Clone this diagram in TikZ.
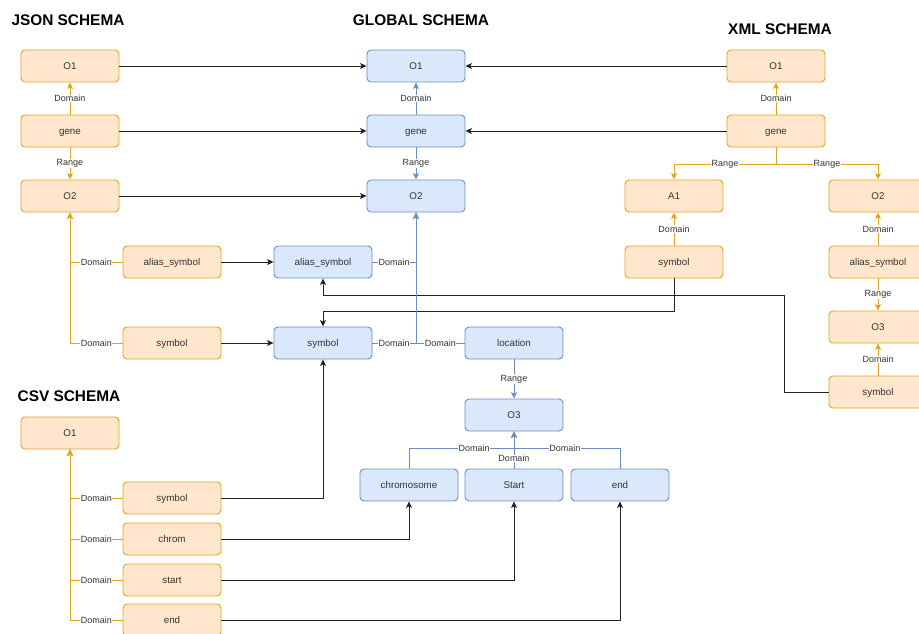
\documentclass[tikz,border=0pt]{standalone}
\usepackage{fontspec}
\setmainfont{Liberation Sans}
\usetikzlibrary{arrows.meta}
\definecolor{ofill}{HTML}{FFE6CC}
\definecolor{odraw}{HTML}{E0A520}
\definecolor{bfill}{HTML}{DAE8FC}
\definecolor{bdraw}{HTML}{6C8EBF}
\definecolor{txt}{HTML}{333333}
\definecolor{cline}{HTML}{222222}
\tikzset{
  base/.style={rounded corners=4pt, minimum width=98pt, minimum height=32pt, line width=0.9pt, text=txt, font=\fontsize{9.8}{12}\selectfont, inner sep=0pt, text height=7pt, text depth=0pt},
  obox/.style={base, fill=ofill, draw=odraw},
  bbox/.style={base, fill=bfill, draw=bdraw},
  title/.style={font=\fontsize{15.4}{18}\selectfont\bfseries, text=black},
  lab/.style={font=\fontsize{9}{10}\selectfont, text=txt, fill=white, inner sep=0.6pt},
  tip/.style={-{Stealth[length=6.5pt,width=6pt,inset=1.5pt]}},
  conn/.style={tip, draw=cline, line width=0.9pt},
  oconn/.style={tip, draw=odraw, line width=0.9pt},
  bconn/.style={tip, draw=bdraw, line width=0.9pt},
}
\begin{document}
\begin{tikzpicture}[x=1pt,y=-1pt]
\useasboundingbox (0,0) rectangle (919,634);
\clip (0,0) rectangle (919,634);
\fill[white] (0,0) rectangle (919,634);
% titles
\node[title] (tjson) at (68,20) {JSON SCHEMA};
\node[title] (tglob) at (421,20) {GLOBAL SCHEMA};
\node[title] (txml) at (780,29) {XML SCHEMA};
\node[title] (tcsv) at (69,396) {CSV SCHEMA};
% JSON
\node[obox] (jO1) at (70,66) {O1};
\node[obox] (jgene) at (70,131) {gene};
\node[obox] (jO2) at (70,196) {O2};
\node[obox] (jalias) at (172,262) {alias\_symbol};
\node[obox] (jsym) at (172,343) {symbol};
% Global
\node[bbox] (gO1) at (416,66) {O1};
\node[bbox] (ggene) at (416,131) {gene};
\node[bbox] (gO2) at (416,196) {O2};
\node[bbox] (galias) at (323,262) {alias\_symbol};
\node[bbox] (gsym) at (323,343) {symbol};
\node[bbox] (gloc) at (514,343) {location};
\node[bbox] (gO3) at (514,415) {O3};
\node[bbox] (gchr) at (409,485) {chromosome};
\node[bbox] (gstart) at (514,485) {Start};
\node[bbox] (gend) at (620,485) {end};
% XML
\node[obox] (xO1) at (776,66) {O1};
\node[obox] (xgene) at (776,131) {gene};
\node[obox] (xA1) at (674,196) {A1};
\node[obox] (xO2) at (878,196) {O2};
\node[obox] (xsym) at (674,262) {symbol};
\node[obox] (xalias) at (878,262) {alias\_symbol};
\node[obox] (xO3) at (878,327) {O3};
\node[obox] (xsym2) at (878,392) {symbol};
% CSV
\node[obox] (cO1) at (70,433) {O1};
\node[obox] (csym) at (172,498) {symbol};
\node[obox] (cchr) at (172,539) {chrom};
\node[obox] (cstart) at (172,580) {start};
\node[obox] (cend) at (172,620) {end};

% mapping connectors
\draw[conn] (jO1) -- (gO1);
\draw[conn] (jgene) -- (ggene);
\draw[conn] (jO2) -- (gO2);
\draw[conn] (jalias) -- (galias);
\draw[conn] (jsym) -- (gsym);
\draw[conn] (xO1) -- (gO1);
\draw[conn] (xgene) -- (ggene);
\draw[conn] (xsym.south) -- (674,311) -| (gsym.north);
\draw[conn] (xsym2.west) -| (784,295) -| (galias.south);
\draw[conn] (csym.east) -| (gsym.south);
\draw[conn] (cchr.east) -| (gchr.south);
\draw[conn] (cstart.east) -| (gstart.south);
\draw[conn] (cend.east) -| (gend.south);

% JSON internal
\draw[oconn] (jgene) -- node[lab]{Domain} (jO1);
\draw[oconn] (jgene) -- node[lab]{Range} (jO2);
\draw[oconn] (jalias.west) -| node[lab,pos=0.25]{Domain} (jO2.south);
\draw[oconn] (jsym.west) -| node[lab,pos=0.25]{Domain} (jO2.south);

% CSV internal
\draw[oconn] (csym.west) -| node[lab,pos=0.25]{Domain} (cO1.south);
\draw[oconn] (cchr.west) -| node[lab,pos=0.25]{Domain} (cO1.south);
\draw[oconn] (cstart.west) -| node[lab,pos=0.25]{Domain} (cO1.south);
\draw[oconn] (cend.west) -| node[lab,pos=0.25]{Domain} (cO1.south);

% Global internal
\draw[bconn] (ggene) -- node[lab]{Domain} (gO1);
\draw[bconn] (ggene) -- node[lab]{Range} (gO2);
\draw[bconn] (galias.east) -| node[lab,pos=0.25]{Domain} (gO2.south);
\draw[bconn] (gsym.east) -| node[lab,pos=0.25]{Domain} (gO2.south);
\draw[bconn] (gloc.west) -| node[lab,pos=0.25]{Domain} (gO2.south);
\draw[bconn] (gloc) -- node[lab]{Range} (gO3);
\draw[bconn] (gchr.north) -- (409,448) -- node[lab,pos=0.62]{Domain} (514,448) -- (gO3.south);
\draw[bconn] (gstart.north) -- node[lab,pos=0.27]{Domain} (gO3.south);
\draw[bconn] (gend.north) -- (620,448) -- node[lab,pos=0.52]{Domain} (514,448) -- (gO3.south);

% XML internal
\draw[oconn] (xgene) -- node[lab]{Domain} (xO1);
\draw[oconn] (xgene.south) -- (776,164) -- node[lab]{Range} (674,164) -- (xA1.north);
\draw[oconn] (xgene.south) -- (776,164) -- node[lab]{Range} (878,164) -- (xO2.north);
\draw[oconn] (xsym) -- node[lab]{Domain} (xA1);
\draw[oconn] (xalias) -- node[lab]{Domain} (xO2);
\draw[oconn] (xalias) -- node[lab]{Range} (xO3);
\draw[oconn] (xsym2) -- node[lab]{Domain} (xO3);
\end{tikzpicture}
\end{document}
